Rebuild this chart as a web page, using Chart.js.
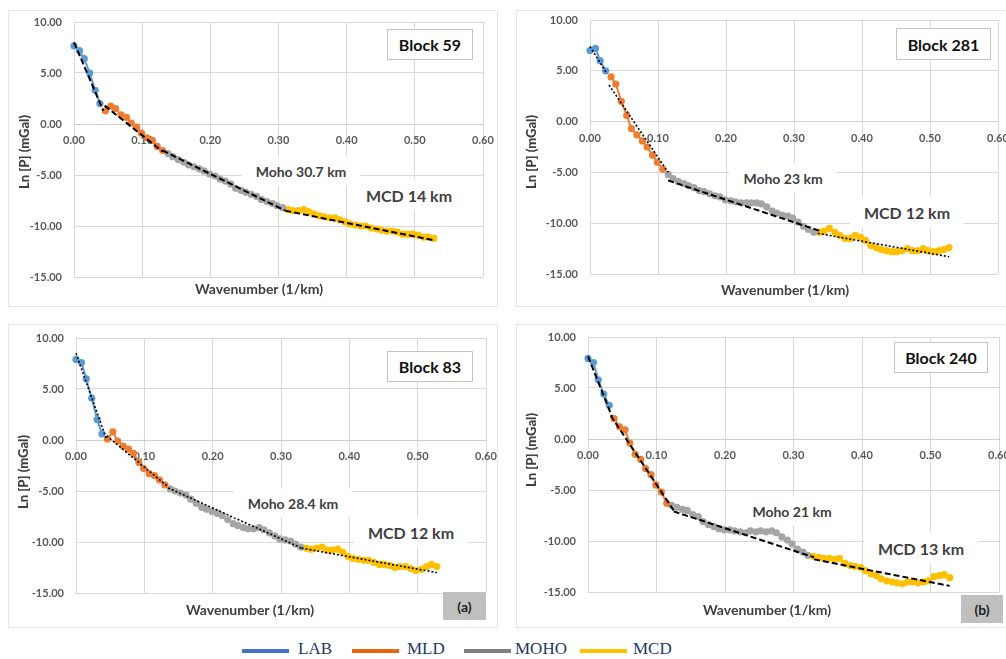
<!DOCTYPE html>
<html>
<head>
<meta charset="utf-8">
<script src="https://cdn.jsdelivr.net/npm/chart.js@4.4.1/dist/chart.umd.min.js"></script>
<style>
  body { margin: 0; width: 1006px; height: 659px; background: #fff; position: relative; overflow: hidden; font-family: Lato, "Open Sans", sans-serif; }
  .frame { position: absolute; border: 1px solid #e4e4e4; box-sizing: border-box; }
  canvas { position: absolute; }
  .txt { position: absolute; font-weight: bold; white-space: nowrap; transform: translate(-50%, -50%); }
  .note { background: #fff; padding: 6px 14px; color: #404040; }
  .block { position: absolute; box-sizing: border-box; border: 1px solid #c4c4c4; background: #fff; font-weight: bold; font-size: 16px; color: #111; display: flex; align-items: center; justify-content: center; }
  .tag { position: absolute; background: #bfbfbf; font-weight: bold; font-size: 14px; color: #222; display: flex; align-items: center; justify-content: center; }
  .ytitle { position: absolute; font-weight: 900; font-size: 13px; color: #404040; white-space: nowrap; transform: translate(-50%, -50%) rotate(-90deg); }
  .leg-line { position: absolute; height: 4px; width: 47px; top: 649px; }
  .leg-text { position: absolute; top: 639px; font-family: "Liberation Serif", "Times New Roman", serif; font-size: 17px; color: #1f3864; }
</style>
</head>
<body>
<div class="frame" style="left:8px;top:10px;width:490px;height:297px"></div>
<div class="frame" style="left:8px;top:324px;width:490px;height:304px"></div>
<div class="frame" style="left:516px;top:10px;width:495px;height:297px"></div>
<div class="frame" style="left:516px;top:324px;width:495px;height:304px"></div>

<canvas id="c59" width="490" height="296" style="left:8px;top:10px"></canvas>
<canvas id="c281" width="490" height="296" style="left:516px;top:10px"></canvas>
<canvas id="c83" width="490" height="302" style="left:8px;top:325px"></canvas>
<canvas id="c240" width="490" height="302" style="left:516px;top:325px"></canvas>

<div class="block" style="left:387px;top:29px;width:86px;height:31px">Block 59</div>
<div class="block" style="left:896px;top:28px;width:95px;height:32px">Block 281</div>
<div class="block" style="left:387px;top:351px;width:86px;height:31px">Block 83</div>
<div class="block" style="left:894px;top:342px;width:94px;height:31px">Block 240</div>

<div class="txt note" style="left:301px;top:171px;font-size:14px">Moho 30.7 km</div>
<div class="txt note" style="left:409px;top:195px;font-size:16px">MCD 14 km</div>
<div class="txt note" style="left:783px;top:178px;font-size:14px">Moho 23 km</div>
<div class="txt note" style="left:907px;top:212px;font-size:16px">MCD 12 km</div>
<div class="txt note" style="left:293px;top:503px;font-size:14px">Moho 28.4 km</div>
<div class="txt note" style="left:411px;top:532px;font-size:16px">MCD 12 km</div>
<div class="txt note" style="left:792px;top:511px;font-size:14px">Moho 21 km</div>
<div class="txt note" style="left:921px;top:548px;font-size:16px">MCD 13 km</div>

<div class="txt" style="left:259px;top:288px;font-size:14px;color:#404040">Wavenumber (1/km)</div>
<div class="txt" style="left:785px;top:289px;font-size:14px;color:#404040">Wavenumber (1/km)</div>
<div class="txt" style="left:250px;top:609px;font-size:14px;color:#404040">Wavenumber (1/km)</div>
<div class="txt" style="left:767px;top:609px;font-size:14px;color:#404040">Wavenumber (1/km)</div>

<div class="ytitle" style="left:24px;top:152px">Ln [P] (mGal)</div>
<div class="ytitle" style="left:531px;top:152px">Ln [P] (mGal)</div>
<div class="ytitle" style="left:23px;top:472px">Ln [P] (mGal)</div>
<div class="ytitle" style="left:531px;top:450px">Ln [P] (mGal)</div>

<div class="tag" style="left:443px;top:592px;width:43px;height:28px">(a)</div>
<div class="tag" style="left:961px;top:595px;width:42px;height:28px">(b)</div>

<div id="legend"></div>

<script>
// wavenumber samples (1/km), shared by all blocks
const wavenumber = [0.000, 0.008, 0.015, 0.023, 0.031, 0.038, 0.046, 0.054, 0.061, 0.069,
  0.077, 0.084, 0.092, 0.099, 0.107, 0.115, 0.122, 0.130, 0.138, 0.145,
  0.153, 0.161, 0.168, 0.176, 0.184, 0.191, 0.199, 0.207, 0.214, 0.222,
  0.230, 0.237, 0.245, 0.252, 0.260, 0.268, 0.275, 0.283, 0.291, 0.298,
  0.306, 0.314, 0.321, 0.329, 0.337, 0.344, 0.352, 0.360, 0.367, 0.375,
  0.383, 0.390, 0.398, 0.405, 0.413, 0.421, 0.428, 0.436, 0.444, 0.451,
  0.459, 0.467, 0.474, 0.482, 0.490, 0.497, 0.505, 0.513, 0.520, 0.528];

// Ln [P] per block
const lnP59 = [7.65, 7.2, 6.4, 5.0, 3.3, 2.0,
  1.3, 1.75, 1.5, 0.9, 0.65, 0.1, -0.3, -0.9, -1.35, -1.6, -2.2, -2.6,
  -2.9, -3.2, -3.5, -3.75, -4.0, -4.2, -4.4, -4.6, -4.9, -5.1, -5.4, -5.6, -5.9, -6.3, -6.5, -6.7, -6.9, -7.1, -7.4, -7.6, -7.8, -8.0, -8.2,
  -8.4, -8.5, -8.5, -8.4, -8.6, -8.8, -9.0, -9.1, -9.2, -9.2, -9.4, -9.6, -9.8, -9.9, -10.0, -10.0, -10.2, -10.3, -10.4, -10.5, -10.5, -10.6, -10.8, -10.8, -10.8, -10.9, -11.1, -11.1, -11.2];
const lnP281 = [7.0, 7.2, 6.0, 5.0,
  4.4, 3.7, 2.0, 0.6, -0.7, -1.3, -1.9, -2.5, -3.3, -4.0, -4.7,
  -5.2, -5.6, -5.9, -6.1, -6.3, -6.5, -6.8, -6.9, -7.1, -7.3, -7.4, -7.7, -7.8, -7.9, -8.0, -8.0, -8.0, -8.0, -8.1, -8.4, -8.8, -9.0, -9.2, -9.3, -9.5, -9.9, -10.3, -10.6, -10.9,
  -10.9, -10.8, -10.5, -10.9, -11.2, -11.5, -11.5, -11.2, -11.4, -11.7, -12.2, -12.4, -12.6, -12.7, -12.8, -12.8, -12.7, -12.5, -12.7, -12.7, -12.5, -12.7, -12.8, -12.7, -12.6, -12.4];
const lnP83 = [7.9, 7.6, 6.0, 4.1, 2.0, 0.6,
  0.1, 0.8, -0.1, -0.6, -0.9, -1.3, -2.2, -2.8, -3.3, -3.5, -3.9, -4.4,
  -4.8, -5.0, -5.2, -5.4, -5.8, -6.2, -6.6, -6.8, -7.0, -7.2, -7.4, -7.8, -8.2, -8.4, -8.6, -8.7, -8.7, -8.6, -8.8, -9.1, -9.4, -9.7, -9.8, -9.9, -10.2, -10.5,
  -10.6, -10.7, -10.6, -10.5, -10.8, -10.8, -10.7, -11.0, -11.4, -11.6, -11.7, -11.8, -11.8, -12.0, -12.2, -12.2, -12.3, -12.5, -12.4, -12.4, -12.6, -12.8, -12.7, -12.4, -12.2, -12.4];
const lnP240 = [7.9, 7.5, 5.8, 4.4, 3.3,
  2.0, 1.2, 0.9, -0.4, -1.5, -2.0, -2.9, -3.5, -4.5, -5.2, -6.3,
  -6.5, -6.7, -6.9, -7.0, -7.4, -7.6, -8.1, -8.4, -8.6, -8.8, -8.9, -8.9, -9.0, -9.1, -9.2, -9.0, -9.1, -9.0, -9.1, -9.0, -9.2, -9.6, -9.9, -10.3, -10.8, -11.1, -11.4,
  -11.5, -11.6, -11.7, -11.7, -11.8, -11.7, -12.2, -12.4, -12.5, -12.6, -12.9, -13.2, -13.4, -13.7, -13.9, -14.0, -14.1, -14.2, -14.0, -14.0, -14.1, -14.0, -13.9, -13.5, -13.4, -13.3, -13.6];

// first sample index of MLD, MOHO, MCD in each block
const splits59 = [6, 18, 41];
const splits281 = [4, 15, 44];
const splits83 = [6, 18, 44];
const splits240 = [5, 16, 43];

// linear fits per zone: [k0, lnP0, k1, lnP1]
const fit59 = [[0.0, 8.0, 0.043, 1.3], [0.045, 1.8, 0.13, -2.7], [0.13, -2.6, 0.31, -8.5], [0.31, -8.5, 0.528, -11.4]];
const fit281 = [[0.0, 7.4, 0.025, 4.7], [0.028, 3.6, 0.115, -5.0], [0.115, -5.8, 0.34, -10.8], [0.335, -11.0, 0.528, -13.3]];
const fit83 = [[0.0, 8.5, 0.045, 0.0], [0.045, 0.4, 0.135, -4.6], [0.135, -4.7, 0.33, -10.6], [0.33, -10.6, 0.528, -13.0]];
const fit240 = [[0.0, 8.1, 0.035, 2.2], [0.033, 2.3, 0.125, -7.0], [0.125, -7.1, 0.33, -11.6], [0.33, -11.8, 0.528, -14.4]];

const zoneNames = ['LAB', 'MLD', 'MOHO', 'MCD'];
const xTicks = [0, 0.1, 0.2, 0.3, 0.4, 0.5, 0.6];
const yTicks = [-15, -10, -5, 0, 5, 10];

const markerColors = ['#5B9BD5', '#ED7D31', '#A5A5A5', '#FFC000'];
const legendColors = ['#4472C4', '#E8650F', '#7F7F7F', '#FFC000'];
const DASH = [6, 3];
const DOT = [2, 2];

function makeDatasets(values, splits, fits, dashes) {
  const bounds = [0, ...splits, values.length];
  const sets = [];
  fits.forEach((f, i) => {
    sets.push({
      label: 'fit',
      data: [{ x: f[0], y: f[1] }, { x: f[2], y: f[3] }],
      borderColor: '#000',
      borderWidth: dashes[i] === DOT ? 1.6 : 2,
      borderDash: dashes[i],
      pointRadius: 0,
      clip: false
    });
  });
  zoneNames.forEach((name, i) => {
    const pts = [];
    for (let j = bounds[i]; j < bounds[i + 1]; j++) pts.push({ x: wavenumber[j], y: values[j] });
    sets.push({
      label: name,
      data: pts,
      borderColor: markerColors[i],
      backgroundColor: markerColors[i],
      borderWidth: 2,
      pointRadius: 3.6,
      pointBorderWidth: 0,
      clip: false
    });
  });
  return sets;
}

const tickFont = { family: 'Lato', weight: 'bold', size: 11 };

function drawPanel(id, values, splits, fits, dashes, pad, yWidth) {
  new Chart(document.getElementById(id), {
    type: 'line',
    data: { datasets: makeDatasets(values, splits, fits, dashes) },
    options: {
      responsive: false,
      animation: false,
      layout: { padding: { left: 0, top: pad[0], right: pad[1], bottom: pad[2] } },
      plugins: { legend: { display: false }, tooltip: { enabled: false } },
      scales: {
        x: {
          type: 'linear', min: 0, max: 0.6, position: { y: 0 },
          afterBuildTicks: s => { s.ticks = xTicks.map(v => ({ value: v })); },
          afterFit: s => { s.paddingLeft = 0; s.paddingRight = 0; },
          grid: { color: '#d9d9d9', drawTicks: false },
          border: { display: true, color: '#cfcfcf' },
          ticks: { padding: 10, color: '#595959', font: tickFont, maxRotation: 0, callback: v => v.toFixed(2) }
        },
        y: {
          min: -15, max: 10,
          afterBuildTicks: s => { s.ticks = yTicks.map(v => ({ value: v })); },
          afterFit: s => { s.width = yWidth; s.paddingTop = 0; s.paddingBottom = 0; },
          grid: { color: '#d9d9d9', drawTicks: false },
          border: { display: false },
          ticks: { padding: 12, color: '#595959', font: tickFont, callback: v => v.toFixed(2) }
        }
      }
    }
  });
}

drawPanel('c59', lnP59, splits59, fit59, [DASH, DASH, DASH, DASH], [12, 15, 29], 66);
drawPanel('c281', lnP281, splits281, fit281, [DOT, DOT, DASH, DOT], [10, 8, 32], 74);
drawPanel('c83', lnP83, splits83, fit83, [DOT, DOT, DOT, DOT], [13, 12, 34], 68);
drawPanel('c240', lnP240, splits240, fit240, [DASH, DASH, DASH, DASH], [12, 7, 35], 72);

// legend
const legend = document.getElementById('legend');
const legLineX = [242, 352, 464, 580];
const legTextX = [298, 407, 515, 633];
zoneNames.forEach((name, i) => {
  const line = document.createElement('div');
  line.className = 'leg-line';
  line.style.left = legLineX[i] + 'px';
  line.style.background = legendColors[i];
  legend.appendChild(line);
  const t = document.createElement('div');
  t.className = 'leg-text';
  t.style.left = legTextX[i] + 'px';
  t.textContent = name;
  legend.appendChild(t);
});
</script>
</body>
</html>
